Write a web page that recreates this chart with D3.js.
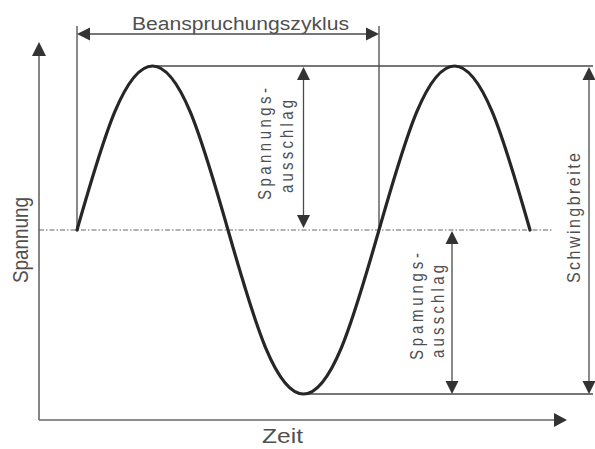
<!DOCTYPE html>
<html><head><meta charset="utf-8">
<script src="https://cdn.jsdelivr.net/npm/d3@7"></script>
<style>html,body{margin:0;padding:0;background:#fff}svg{display:block}</style>
</head><body>
<svg id="c" width="595" height="449"></svg>
<script>
// time in cycles, stress in units of amplitude
const timeCycles = [0, 0.125, 0.25, 0.375, 0.5, 0.625, 0.75, 0.875, 1, 1.125, 1.25, 1.375, 1.5];
const stressValues = [0, 0.72, 1, 0.72, 0, -0.72, -1, -0.72, 0, 0.72, 1, 0.72, 0];
const axisLabels = ["Zeit", "Spannung"];
const cycleLabel = "Beanspruchungszyklus";
const ampLabelUpper = ["Spannungs-", "ausschlag"];
const ampLabelLower = ["Spamungs-", "ausschlag"];
const rangeLabel = "Schwingbreite";

const svg = d3.select("#c");
const x = d3.scaleLinear().domain([0, 1.5]).range([77, 530]);
const y = d3.scaleLinear().domain([-1, 1]).range([394, 66]);

const lineCol = "#4a4a4a", textCol = "#505050";
const axX = 39, axY = 420, rightEdge = 593;

function arrowHead(tx, ty, dir, len = 13, hw = 6.5) {
  let p;
  if (dir === "up") p = [[tx, ty], [tx - hw, ty + len], [tx + hw, ty + len]];
  if (dir === "down") p = [[tx, ty], [tx - hw, ty - len], [tx + hw, ty - len]];
  if (dir === "left") p = [[tx, ty], [tx + len, ty - hw], [tx + len, ty + hw]];
  if (dir === "right") p = [[tx, ty], [tx - len, ty - hw], [tx - len, ty + hw]];
  svg.append("path").attr("d", "M" + p.map(d => d.join(",")).join("L") + "Z").attr("fill", "#333");
}
function ln(x1, y1, x2, y2, w = 1.3, col = lineCol) {
  return svg.append("line").attr("x1", x1).attr("y1", y1).attr("x2", x2).attr("y2", y2)
    .attr("stroke", col).attr("stroke-width", w);
}

// axes
ln(axX, 48, axX, axY, 1.6, "#666");
ln(axX, axY, 560, axY, 1.6, "#666");
arrowHead(axX, 42, "up", 14, 7);
arrowHead(567, axY, "right", 13, 7);

// mean line (dash-dot)
ln(axX, y(0), 552, y(0), 1.1, "#666").attr("stroke-dasharray", "5,2,1.5,2");

// reference lines
ln(x(0), 26, x(0), y(0), 1.3);
ln(x(1), 26, x(1), y(0), 1.3);
ln(x(0.25), y(1), rightEdge, y(1), 1.3);
ln(x(0.75), y(-1), rightEdge, y(-1), 1.3);

// cycle dimension
ln(x(0) + 8, 34, x(1) - 8, 34, 1.3);
arrowHead(x(0), 34, "left");
arrowHead(x(1), 34, "right");

// amplitude upper
const xa1 = x(0.75);
ln(xa1, y(1) + 8, xa1, y(0) - 8, 1.3);
arrowHead(xa1, y(1) + 1, "up");
arrowHead(xa1, y(0) - 2, "down");

// amplitude lower
const xa2 = 452;
ln(xa2, y(0) + 8, xa2, y(-1) - 8, 1.3);
arrowHead(xa2, y(0) + 1, "up");
arrowHead(xa2, y(-1), "down");

// range
const xr = 589;
ln(xr, y(1) + 8, xr, y(-1) - 8, 1.3);
arrowHead(xr, y(1) + 1, "up");
arrowHead(xr, y(-1), "down");

// wave
const pts = timeCycles.map((t, i) => [x(t), y(stressValues[i])]);
svg.append("path").attr("d", d3.line().curve(d3.curveNatural)(pts))
  .attr("fill", "none").attr("stroke", "#262626").attr("stroke-width", 3.2).attr("stroke-linecap", "round");

// texts
const ff = "Liberation Sans, Arial, sans-serif";
function hText(str, xs, yb, size, len) {
  svg.append("text").attr("x", xs).attr("y", yb).attr("font-family", ff).attr("font-size", size)
    .attr("fill", textCol).attr("textLength", len).attr("lengthAdjust", "spacingAndGlyphs").text(str);
}
function vText(str, xb, yStart, size, len, adj = "spacing", sc = 1.2) {
  svg.append("text").attr("transform", `translate(${xb},${yStart}) rotate(-90) scale(1,${sc})`)
    .attr("font-family", ff).attr("font-size", size).attr("fill", textCol)
    .attr("textLength", len).attr("lengthAdjust", adj).text(str);
}
hText(cycleLabel, 132, 30, 18, 217);
hText(axisLabels[0], 262, 443, 21, 41);
vText(axisLabels[1], 28, 283, 18, 86, "spacingAndGlyphs", 1.25);
vText(ampLabelUpper[0], 271, 200, 15, 112);
vText(ampLabelUpper[1], 293, 193, 15, 93);
vText(ampLabelLower[0], 423, 360, 15, 107);
vText(ampLabelLower[1], 444, 358, 15, 93);
vText(rangeLabel, 580, 283, 16, 130);
</script>
</body></html>
